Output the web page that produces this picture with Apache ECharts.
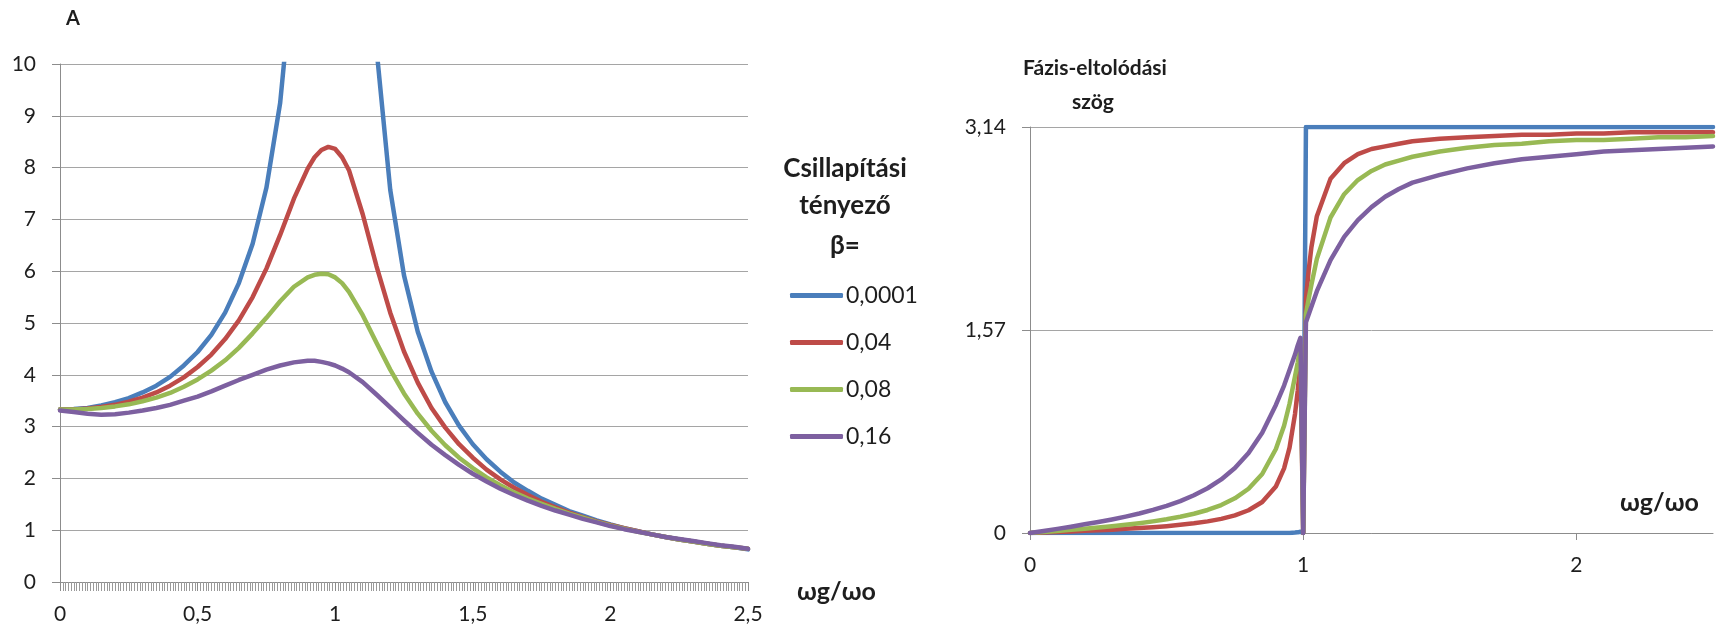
<!DOCTYPE html>
<html>
<head>
<meta charset="utf-8">
<title>Rezonancia – amplitúdó és fázis</title>
<script src="https://cdn.jsdelivr.net/npm/echarts@6/dist/echarts.min.js"></script>
<style>
  html, body { margin: 0; padding: 0; background: #ffffff; }
  #chart { width: 1719px; height: 629px; }
</style>
</head>
<body>
<div id="chart"></div>
<script>
// Damping factors (legend entries)
const betaNames = ['0,0001', '0,04', '0,08', '0,16'];
const lineColors = ['#4a7ebb', '#be4b48', '#98b954', '#7d60a0'];

// Amplitude A versus frequency ratio ωg/ωo
const ampX = [0, 0.05, 0.1, 0.15, 0.2, 0.25, 0.3, 0.35, 0.4, 0.45, 0.5, 0.55, 0.6, 0.65, 0.7, 0.75, 0.8, 0.85,
  0.9, 0.925, 0.95, 0.975, 1.0, 1.025, 1.05, 1.1, 1.15, 1.2, 1.25, 1.3, 1.35, 1.4, 1.45, 1.5, 1.55, 1.6, 1.65,
  1.7, 1.75, 1.8, 1.85, 1.9, 1.95, 2.0, 2.05, 2.1, 2.15, 2.2, 2.25, 2.3, 2.35, 2.4, 2.45, 2.5];
const ampBlue = [3.33, 3.34, 3.36, 3.41, 3.47, 3.55, 3.66, 3.79, 3.96, 4.18, 4.44, 4.77, 5.2, 5.77, 6.53, 7.61, 9.25, 12.0,
  17.5, 23.1, 34.2, 67.4, 16650, 65.8, 32.5, 15.9, 10.3, 7.57, 5.92, 4.83, 4.06, 3.47, 3.02, 2.66, 2.37, 2.13, 1.92,
  1.76, 1.61, 1.49, 1.37, 1.28, 1.19, 1.11, 1.04, 0.98, 0.92, 0.87, 0.82, 0.78, 0.74, 0.70, 0.67, 0.63];
const ampRed = [3.33, 3.33, 3.35, 3.38, 3.42, 3.48, 3.56, 3.66, 3.79, 3.95, 4.15, 4.39, 4.69, 5.05, 5.5, 6.05, 6.7, 7.4,
  7.98, 8.2, 8.34, 8.4, 8.36, 8.2, 7.95, 7.1, 6.1, 5.2, 4.45, 3.85, 3.36, 2.98, 2.66, 2.4, 2.17, 1.98, 1.82,
  1.68, 1.55, 1.44, 1.34, 1.25, 1.17, 1.1, 1.04, 0.98, 0.92, 0.87, 0.82, 0.78, 0.74, 0.7, 0.67, 0.64];
const ampGreen = [3.33, 3.33, 3.34, 3.36, 3.39, 3.43, 3.49, 3.56, 3.65, 3.77, 3.91, 4.08, 4.28, 4.52, 4.8, 5.1, 5.42, 5.7,
  5.88, 5.93, 5.95, 5.94, 5.88, 5.77, 5.6, 5.15, 4.62, 4.1, 3.64, 3.25, 2.92, 2.64, 2.4, 2.2, 2.02, 1.87, 1.73,
  1.61, 1.51, 1.41, 1.32, 1.24, 1.16, 1.09, 1.03, 0.97, 0.92, 0.87, 0.82, 0.78, 0.74, 0.7, 0.67, 0.64];
const ampPurple = [3.31, 3.28, 3.25, 3.23, 3.24, 3.27, 3.31, 3.36, 3.42, 3.5, 3.58, 3.68, 3.79, 3.9, 4.0, 4.1, 4.18, 4.24,
  4.27, 4.27, 4.25, 4.22, 4.18, 4.12, 4.05, 3.86, 3.62, 3.37, 3.12, 2.88, 2.65, 2.45, 2.26, 2.09, 1.94, 1.8, 1.68,
  1.57, 1.47, 1.38, 1.3, 1.22, 1.15, 1.08, 1.02, 0.97, 0.92, 0.87, 0.83, 0.79, 0.75, 0.71, 0.68, 0.64];

// Phase shift angle versus frequency ratio ωg/ωo
const phaseX = [0, 0.05, 0.1, 0.15, 0.2, 0.25, 0.3, 0.35, 0.4, 0.45, 0.5, 0.55, 0.6, 0.65, 0.7, 0.75, 0.8, 0.85,
  0.9, 0.93, 0.95, 0.97, 0.98, 0.99, 1.0, 1.01, 1.02, 1.03, 1.05, 1.1, 1.15, 1.2, 1.25, 1.3, 1.35, 1.4, 1.5, 1.6,
  1.7, 1.8, 1.9, 2.0, 2.1, 2.2, 2.3, 2.4, 2.5];
const phaseBlue = [0, 0, 0, 0, 0, 0, 0, 0, 0, 0, 0, 0, 0, 0, 0, 0, 0, 0,
  0, 0, 0, 0.003, 0.005, 0.01, 0, 3.14, 3.14, 3.14, 3.14, 3.14, 3.14, 3.14, 3.14, 3.14, 3.14, 3.14, 3.14, 3.14,
  3.14, 3.14, 3.14, 3.14, 3.14, 3.14, 3.14, 3.14, 3.14];
const phaseRed = [0, 0.004, 0.008, 0.012, 0.017, 0.021, 0.026, 0.032, 0.038, 0.045, 0.053, 0.063, 0.075, 0.09, 0.109, 0.136, 0.176, 0.24,
  0.36, 0.5, 0.66, 0.92, 1.1, 1.33, 0, 1.81, 2.03, 2.21, 2.45, 2.74, 2.86, 2.93, 2.97, 2.99, 3.01, 3.03, 3.05, 3.06,
  3.07, 3.08, 3.08, 3.09, 3.09, 3.1, 3.1, 3.1, 3.1];
const phaseGreen = [0, 0.008, 0.016, 0.025, 0.033, 0.043, 0.053, 0.064, 0.076, 0.09, 0.106, 0.126, 0.149, 0.178, 0.216, 0.268, 0.342, 0.456,
  0.65, 0.83, 1.0, 1.21, 1.32, 1.45, 0, 1.69, 1.81, 1.92, 2.12, 2.44, 2.62, 2.73, 2.8, 2.85, 2.88, 2.91, 2.95, 2.98,
  3.0, 3.01, 3.03, 3.04, 3.04, 3.05, 3.06, 3.06, 3.07];
const phasePurple = [0, 0.016, 0.032, 0.049, 0.067, 0.085, 0.105, 0.127, 0.151, 0.179, 0.21, 0.247, 0.292, 0.346, 0.414, 0.502, 0.618, 0.775,
  0.99, 1.14, 1.26, 1.38, 1.45, 1.51, 0, 1.63, 1.69, 1.75, 1.87, 2.11, 2.29, 2.42, 2.52, 2.6, 2.66, 2.71, 2.77, 2.82,
  2.86, 2.89, 2.91, 2.93, 2.95, 2.96, 2.97, 2.98, 2.99];

// Axis tick labels
const ampYTicks = [0, 1, 2, 3, 4, 5, 6, 7, 8, 9, 10];
const ampXTicks = ['0', '0,5', '1', '1,5', '2', '2,5'];
const phaseYTicks = ['0', '1,57', '3,14'];
const phaseXTicks = ['0', '1', '2'];

const FONT = 'Lato, "Open Sans", sans-serif';
const TEXT = '#1e1e1e';
const GRID = '#a5a5a5';
const AXIS = '#8c8c8c';

const pair = (xs, ys) => xs.map((x, i) => [x, ys[i]]);
const comma = v => String(v).replace('.', ',');

const ampSets = [ampBlue, ampRed, ampGreen, ampPurple];
const phaseSets = [phaseBlue, phaseRed, phaseGreen, phasePurple];

const series = [];
ampSets.forEach((ys, i) => series.push({
  name: betaNames[i], type: 'line', xAxisIndex: 0, yAxisIndex: 0,
  data: pair(ampX, ys), showSymbol: false, symbol: 'none', clip: true,
  lineStyle: { width: 4.5, color: lineColors[i], cap: 'round', join: 'round' },
  itemStyle: { color: lineColors[i] }, z: 2 + i
}));
phaseSets.forEach((ys, i) => series.push({
  name: betaNames[i], type: 'line', xAxisIndex: 1, yAxisIndex: 1,
  data: pair(phaseX, ys), showSymbol: false, symbol: 'none', clip: true,
  lineStyle: { width: 4.5, color: lineColors[i], cap: 'round', join: 'round' },
  itemStyle: { color: lineColors[i] }, z: 2 + i
}));

const chart = echarts.init(document.getElementById('chart'), null, { renderer: 'canvas' });

chart.setOption({
  backgroundColor: '#ffffff',
  animation: false,
  textStyle: { fontFamily: FONT },
  grid: [
    { left: 60, top: 64, width: 688, height: 518 },
    { left: 1030, top: 127, width: 683, height: 406 }
  ],
  xAxis: [
    {
      type: 'value', gridIndex: 0, min: 0, max: 2.5, interval: 0.5,
      axisLine: { show: true, onZero: false, lineStyle: { color: AXIS, width: 1 } },
      axisTick: { show: true, length: 9, lineStyle: { color: AXIS } },
      minorTick: { show: true, splitNumber: 50, length: 9, lineStyle: { color: '#9a9a9a' } },
      splitLine: { show: false },
      axisLabel: {
        margin: 22, fontSize: 21, color: TEXT, fontFamily: FONT,
        formatter: v => ampXTicks[Math.round(v / 0.5)] ?? comma(v)
      }
    },
    {
      type: 'value', gridIndex: 1, min: 0, max: 2.5, interval: 1,
      axisLine: { show: true, onZero: false, lineStyle: { color: AXIS, width: 1 } },
      axisTick: { show: true, length: 7, lineStyle: { color: AXIS } },
      splitLine: { show: false },
      axisLabel: {
        margin: 22, fontSize: 21, color: TEXT, fontFamily: FONT, showMaxLabel: false,
        formatter: v => phaseXTicks[Math.round(v)] ?? ''
      }
    }
  ],
  yAxis: [
    {
      type: 'value', gridIndex: 0, min: 0, max: 10, interval: 1,
      axisLine: { show: true, lineStyle: { color: AXIS, width: 1 } },
      axisTick: { show: true, length: 8, lineStyle: { color: AXIS } },
      splitLine: { show: true, lineStyle: { color: GRID, width: 1 } },
      axisLabel: {
        margin: 24, fontSize: 21, color: TEXT, fontFamily: FONT,
        formatter: v => String(ampYTicks[Math.round(v)])
      }
    },
    {
      type: 'value', gridIndex: 1, min: 0, max: 3.14, interval: 1.57,
      axisLine: { show: true, lineStyle: { color: AXIS, width: 1 } },
      axisTick: { show: true, length: 8, lineStyle: { color: AXIS } },
      splitLine: { show: true, lineStyle: { color: GRID, width: 1 } },
      axisLabel: {
        margin: 24, fontSize: 21, color: TEXT, fontFamily: FONT,
        formatter: v => phaseYTicks[Math.round(v / 1.57)]
      }
    }
  ],
  legend: {
    orient: 'vertical', left: 785, top: 279,
    data: betaNames,
    icon: 'roundRect', itemWidth: 53, itemHeight: 5, itemGap: 24,
    textStyle: { fontSize: 23, color: TEXT, fontFamily: FONT, lineHeight: 22, padding: [0, 0, 0, -2] },
    selectedMode: false
  },
  graphic: [
    { type: 'text', left: 66, top: 9, style: { text: 'A', font: 'bold 20px ' + FONT, fill: TEXT } },
    { type: 'text', left: 797, top: 579, style: { text: 'ωg/ωo', font: 'bold 25px ' + FONT, fill: TEXT } },
    { type: 'text', left: 1620, top: 490, style: { text: 'ωg/ωo', font: 'bold 25px ' + FONT, fill: TEXT } },
    { type: 'text', x: 845, y: 169, style: { text: 'Csillapítási', font: 'bold 26px ' + FONT, fill: TEXT, align: 'center', verticalAlign: 'middle' } },
    { type: 'text', x: 845, y: 206, style: { text: 'tényező', font: 'bold 26px ' + FONT, fill: TEXT, align: 'center', verticalAlign: 'middle' } },
    { type: 'text', x: 845, y: 246, style: { text: 'β=', font: 'bold 26px ' + FONT, fill: TEXT, align: 'center', verticalAlign: 'middle' } },
    { type: 'text', x: 1095, y: 68, style: { text: 'Fázis-eltolódási', font: 'bold 21px ' + FONT, fill: TEXT, align: 'center', verticalAlign: 'middle' } },
    { type: 'text', x: 1093, y: 102, style: { text: 'szög', font: 'bold 21px ' + FONT, fill: TEXT, align: 'center', verticalAlign: 'middle' } }
  ],
  series: series
});
</script>
</body>
</html>
